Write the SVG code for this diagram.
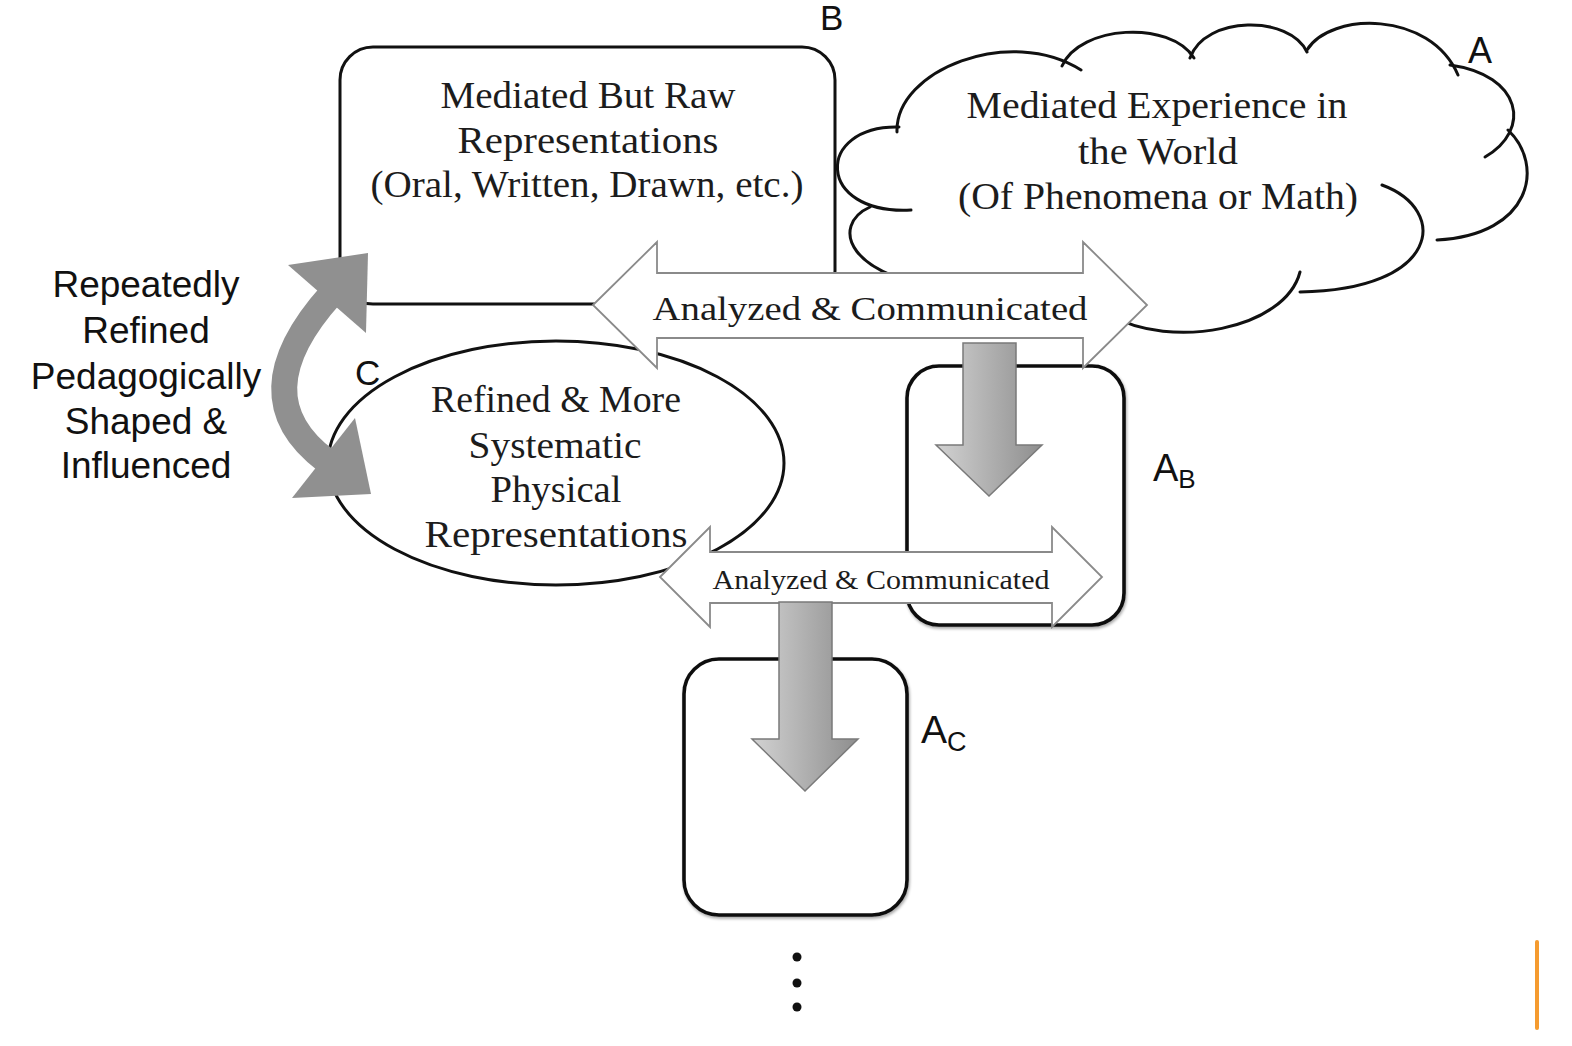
<svg xmlns="http://www.w3.org/2000/svg" width="1572" height="1046" viewBox="0 0 1572 1046">
<style>
.serif{font-family:"Liberation Serif","DejaVu Serif",serif;fill:#1c1c1c;text-anchor:middle}
.sans{font-family:"Liberation Sans",Arial,sans-serif;fill:#111;}
.box{fill:#fff;stroke:#111;stroke-width:3}
.boxk{fill:#fff;stroke:#111;stroke-width:3.6}
.lobe{fill:none;stroke:#111;stroke-width:3;stroke-linecap:round}
.dbl{fill:#fff;stroke:#8a8a8a;stroke-width:1.8;stroke-linejoin:miter}
.down{fill:url(#gg);stroke:#7a7a7a;stroke-width:1.5}
</style>
<defs>
<linearGradient id="gg" x1="0" y1="0" x2="1" y2="0">
<stop offset="0" stop-color="#d2d2d2"/>
<stop offset="1" stop-color="#8e8e8e"/>
</linearGradient>
<filter id="sh" x="-5%" y="-5%" width="110%" height="110%">
<feGaussianBlur in="SourceAlpha" stdDeviation="1.5"/>
<feOffset dx="1" dy="2" result="b"/>
<feComponentTransfer><feFuncA type="linear" slope="0.35"/></feComponentTransfer>
<feMerge><feMergeNode/><feMergeNode in="SourceGraphic"/></feMerge>
</filter>
</defs>
<rect width="1572" height="1046" fill="#fff"/>

<g id="node-B">
<rect class="box" x="340" y="47" width="495" height="257" rx="33"/>
<text class="serif" font-size="37" x="588" y="108" textLength="295" lengthAdjust="spacingAndGlyphs">Mediated But Raw</text>
<text class="serif" font-size="37" x="588" y="153" textLength="261" lengthAdjust="spacingAndGlyphs">Representations</text>
<text class="serif" font-size="37" x="587" y="197" textLength="433" lengthAdjust="spacingAndGlyphs">(Oral, Written, Drawn, etc.)</text>
<text class="sans" font-size="35" x="820" y="30">B</text>
</g>

<g id="node-A">
<path class="lobe" d="M897,132 C895,70 1010,25 1081,70"/>
<path class="lobe" d="M1062,66 C1080,25 1170,20 1194,58"/>
<path class="lobe" d="M1190,58 C1205,15 1290,15 1307,52"/>
<path class="lobe" d="M1307,50 C1330,12 1430,10 1458,75"/>
<path class="lobe" d="M1450,65 C1522,75 1532,130 1485,157"/>
<path class="lobe" d="M1508,130 C1545,165 1532,235 1437,240"/>
<path class="lobe" d="M1382,185 C1450,210 1440,290 1300,292"/>
<path class="lobe" d="M1300,272 C1285,330 1170,350 1110,315"/>
<path class="lobe" d="M899,127 C815,125 815,215 911,210"/>
<path class="lobe" d="M870,207 C830,225 845,280 960,290"/>
<text class="serif" font-size="37" x="1157" y="118" textLength="381" lengthAdjust="spacingAndGlyphs">Mediated Experience in</text>
<text class="serif" font-size="37" x="1158" y="164" textLength="160" lengthAdjust="spacingAndGlyphs">the World</text>
<text class="serif" font-size="37" x="1158" y="209" textLength="400" lengthAdjust="spacingAndGlyphs">(Of Phenomena or Math)</text>
<text class="sans" font-size="36" x="1468" y="63">A</text>
</g>

<g id="node-C">
<ellipse class="box" cx="556" cy="463" rx="228" ry="122"/>
<text class="serif" font-size="37" x="556" y="412" textLength="250" lengthAdjust="spacingAndGlyphs">Refined &amp; More</text>
<text class="serif" font-size="37" x="555" y="458" textLength="173" lengthAdjust="spacingAndGlyphs">Systematic</text>
<text class="serif" font-size="37" x="556" y="502" textLength="131" lengthAdjust="spacingAndGlyphs">Physical</text>
<text class="serif" font-size="37" x="556" y="547" textLength="263" lengthAdjust="spacingAndGlyphs">Representations</text>
<text class="sans" font-size="35" x="355" y="385">C</text>
</g>

<g id="node-AB">
<rect class="boxk" x="907" y="366" width="217" height="259" rx="32" filter="url(#sh)"/>
<text class="sans" font-size="38" x="1153" y="481">A<tspan font-size="26" y="488">B</tspan></text>
</g>

<g id="node-AC">
<rect class="boxk" x="684" y="659" width="223" height="256" rx="35" filter="url(#sh)"/>
<text class="sans" font-size="39" x="921" y="743">A<tspan font-size="27" y="751">C</tspan></text>
</g>

<g id="label-left" class="sans" font-size="37" text-anchor="middle">
<text x="146" y="297">Repeatedly</text>
<text x="146" y="343">Refined</text>
<text x="146" y="389">Pedagogically</text>
<text x="146" y="434">Shaped &amp;</text>
<text x="146" y="478">Influenced</text>
</g>

<g id="connectors">
<g id="arrow-analyzed-1">
<polygon class="dbl" points="593,305 657,242 657,273 1083,273 1083,242 1147,305 1083,368 1083,338 657,338 657,368"/>
<text class="serif" font-size="34" x="870" y="320" textLength="435" lengthAdjust="spacingAndGlyphs" fill="#2a2a2a">Analyzed &amp; Communicated</text>
</g>
<polygon id="arrow-down-1" class="down" points="963,343 1016,343 1016,445 1042,445 989,496 936,445 963,445"/>
<g id="arrow-analyzed-2">
<polygon class="dbl" points="660,577 710,527 710,552 1052,552 1052,527 1102,577 1052,627 1052,603 710,603 710,627"/>
<text class="serif" font-size="27" x="881" y="589" textLength="337" lengthAdjust="spacingAndGlyphs" fill="#2a2a2a">Analyzed &amp; Communicated</text>
</g>
<polygon id="arrow-down-2" class="down" points="779,602 832,602 832,739 858,739 805,791 752,739 779,739"/>
<g id="arrow-curved" fill="#909090">
<path d="M331,294.5 Q240,396 326,460.5" fill="none" stroke="#909090" stroke-width="26"/>
<polygon points="288,265 368,253 366,333"/>
<polygon points="355,418 371,494 292,498"/>
</g>
</g>

<g id="ellipsis" fill="#111">
<circle cx="797" cy="957" r="4.5"/>
<circle cx="797" cy="983" r="4.5"/>
<circle cx="797" cy="1007" r="4.5"/>
</g>
<line x1="1537" y1="942" x2="1537" y2="1028" stroke="#f59b2f" stroke-width="4" stroke-linecap="round"/>
</svg>
